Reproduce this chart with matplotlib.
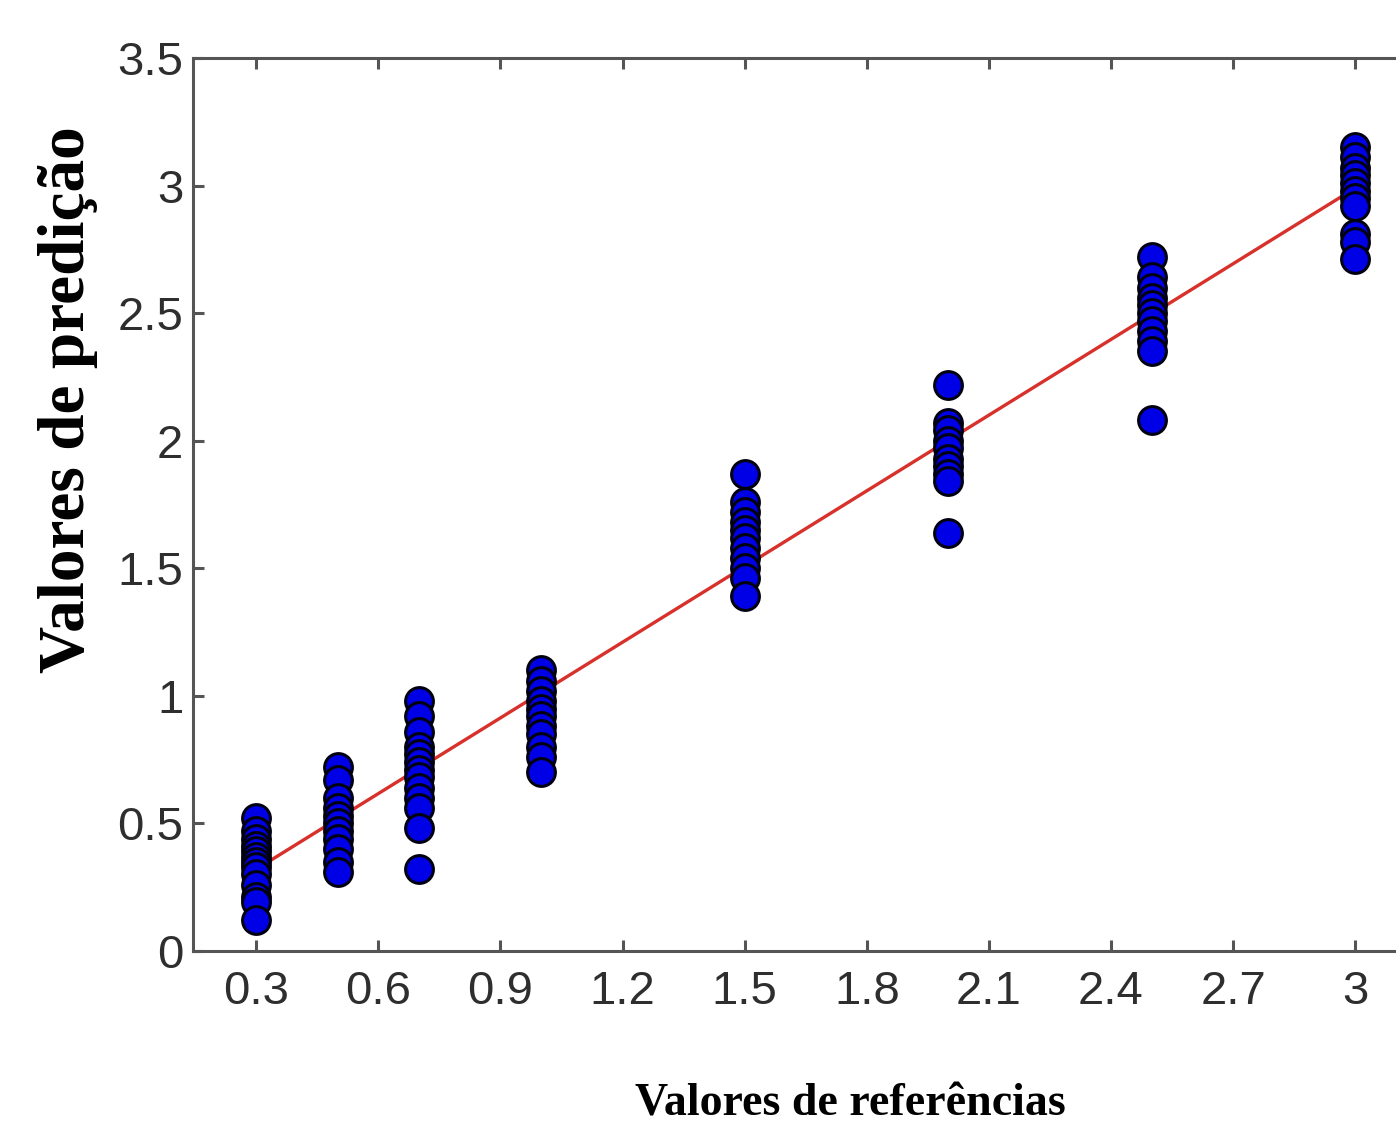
import numpy as np
import matplotlib
matplotlib.use("Agg")
import matplotlib.pyplot as plt

# reference concentrations and predicted values
ref_levels = [0.3, 0.5, 0.7, 1.0, 1.5, 2.0, 2.5, 3.0]
pred_03 = [0.52, 0.47, 0.44, 0.41, 0.39, 0.37, 0.35, 0.33, 0.30, 0.26, 0.21, 0.19, 0.12]
pred_05 = [0.72, 0.67, 0.60, 0.56, 0.53, 0.50, 0.47, 0.44, 0.40, 0.35, 0.31]
pred_07 = [0.98, 0.92, 0.86, 0.80, 0.77, 0.74, 0.71, 0.68, 0.64, 0.60, 0.56, 0.48, 0.32]
pred_10 = [1.10, 1.06, 1.02, 0.98, 0.95, 0.92, 0.88, 0.85, 0.80, 0.76, 0.70]
pred_15 = [1.87, 1.76, 1.72, 1.68, 1.65, 1.62, 1.58, 1.54, 1.50, 1.46, 1.39]
pred_20 = [2.22, 2.07, 2.04, 2.00, 1.97, 1.93, 1.90, 1.87, 1.84, 1.64]
pred_25 = [2.72, 2.64, 2.60, 2.56, 2.53, 2.50, 2.47, 2.43, 2.39, 2.35, 2.08]
pred_30 = [3.15, 3.11, 3.07, 3.04, 3.01, 2.98, 2.95, 2.92, 2.81, 2.78, 2.71]
predictions = [pred_03, pred_05, pred_07, pred_10, pred_15, pred_20, pred_25, pred_30]

# regression line end points
fit_x = [0.3, 3.0]
fit_y = [0.32, 2.99]

xticks = [0.3, 0.6, 0.9, 1.2, 1.5, 1.8, 2.1, 2.4, 2.7, 3.0]
xtick_labels = ["0.3", "0.6", "0.9", "1.2", "1.5", "1.8", "2.1", "2.4", "2.7", "3"]
yticks = [0, 0.5, 1, 1.5, 2, 2.5, 3, 3.5]
ytick_labels = ["0", "0.5", "1", "1.5", "2", "2.5", "3", "3.5"]

fig = plt.figure(figsize=(13.96, 11.27), dpi=100)
# axes runs past the right edge, as in the cropped original
ax = fig.add_axes([0.1383, 0.1562, 0.9054, 0.7924])

xs = np.concatenate([[x] * len(p) for x, p in zip(ref_levels, predictions)])
ys = np.concatenate(predictions)

ax.plot(fit_x, fit_y, color="#d8302a", lw=2.4, zorder=2)
ax.plot(xs, ys, "o", ms=20, mfc="#0000e6", mec="#000010", mew=2.2,
        linestyle="none", zorder=3)

ax.set_xlim(0.145, 3.25)
ax.set_ylim(0, 3.5)
ax.set_xticks(xticks)
ax.set_xticklabels(xtick_labels)
ax.set_yticks(yticks)
ax.set_yticklabels(ytick_labels)

for s in ax.spines.values():
    s.set_color("#555555")
    s.set_linewidth(2.2)
ax.tick_params(direction="in", length=8, width=2.2, color="#555555",
               top=True, right=False, labelsize=34, labelcolor="#2e2e2e")
ax.tick_params(axis="x", pad=14)
ax.tick_params(axis="y", pad=7)
for lab in ax.get_xticklabels() + ax.get_yticklabels():
    lab.set_fontfamily("Liberation Sans")

fig.text(0.049, 0.645, "Valores de predição", rotation=90, ha="center", va="center",
         fontsize=47, fontweight="bold", family="Liberation Serif")
fig.text(0.609, 0.0106, "Valores de referências", ha="center", va="baseline",
         fontsize=33, fontweight="bold", family="Liberation Serif")

fig.savefig("out.png", dpi=100)
